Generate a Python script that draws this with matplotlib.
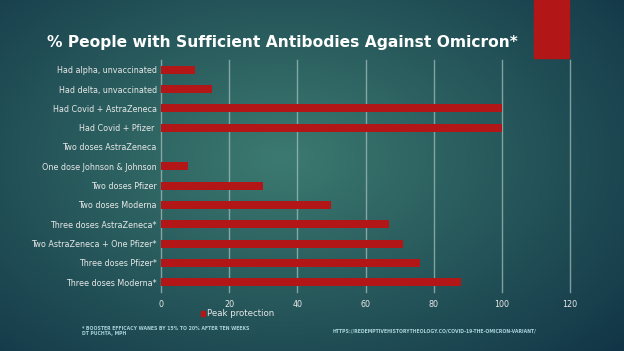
import numpy as np
import matplotlib
matplotlib.use("Agg")
import matplotlib.pyplot as plt
from matplotlib.patches import Rectangle, Patch

categories = ["Had alpha, unvaccinated", "Had delta, unvaccinated", "Had Covid + AstraZeneca",
              "Had Covid + Pfizer ", "Two doses AstraZeneca", "One dose Johnson & Johnson",
              "Two doses Pfizer", "Two doses Moderna", "Three doses AstraZeneca*",
              "Two AstraZeneca + One Pfizer*", "Three doses Pfizer*", "Three doses Moderna*"]
values = [10, 15, 100, 100, 0, 8, 30, 50, 67, 71, 76, 88]
xticks = [0, 20, 40, 60, 80, 100, 120]
title = "% People with Sufficient Antibodies Against Omicron*"
series_name = "Peak protection"
footnote = "* BOOSTER EFFICACY WANES BY 15% TO 20% AFTER TEN WEEKS\nDT PUCHTA, MPH"
source = "HTTPS://REDEMPTIVEHISTORYTHEOLOGY.CO/COVID-19-THE-OMICRON-VARIANT/"

W, H = 624, 351
fig = plt.figure(figsize=(W/100, H/100), dpi=100)

# background gradient
bg = fig.add_axes([0, 0, 1, 1])
yy, xx = np.mgrid[0:H, 0:W]
cx, cy = 0.45 * W, 0.45 * H
d = np.sqrt(((xx - cx) / (0.75 * W))**2 + ((yy - cy) / (0.85 * H))**2)
d = np.clip(d, 0, 1)
c_in = np.array([0x3c, 0x7a, 0x70]) / 255
c_out = np.array([0x10, 0x33, 0x45]) / 255
img = c_in[None, None, :] * (1 - d[..., None]) + c_out[None, None, :] * d[..., None]
bg.imshow(img, extent=[0, W, H, 0], aspect='auto')
bg.set_xlim(0, W); bg.set_ylim(H, 0)
bg.axis('off')
bg.add_patch(Rectangle((534, 0), 35, 58, color='#b21616'))

fig.text(47/W, 1 - 42/H, title, color='white', fontsize=11.2, fontweight='bold',
         family='DejaVu Sans', va='center', ha='left')

ax = fig.add_axes([161/W, 1 - 292/H, (570 - 161)/W, (292 - 60)/H])
ax.patch.set_alpha(0)
y = np.arange(len(categories))
ax.barh(y, values, height=0.4, color='#b21616', label=series_name, zorder=3)
ax.set_ylim(len(categories) - 0.5, -0.5)
ax.set_xlim(0, 120)
ax.set_xticks(xticks)
ax.set_yticks(y)
ax.set_yticklabels(categories)
ax.tick_params(colors='#e8e8e8', labelsize=5.8, length=0)
ax.tick_params(axis='x', pad=6)
ax.tick_params(axis='y', pad=3)
for s in ax.spines.values():
    s.set_visible(False)
for t in xticks:
    ax.axvline(t, color='#a8c4c0', linewidth=1, alpha=0.7, zorder=1, clip_on=False)

leg = fig.legend(handles=[Patch(color='#b21616', label=series_name)],
                 loc='center', bbox_to_anchor=(238/W, 1 - 314/H), frameon=False,
                 fontsize=6.2, labelcolor='#e8e8e8', handlelength=0.4, handleheight=0.4,
                 handletextpad=0.3)

fig.text(82/W, 1 - 331/H, footnote, color='#a8d0d8', fontsize=3.3, fontweight='bold',
         va='center', ha='left', linespacing=1.1)
fig.text(333/W, 1 - 331/H, source, color='#a8d0d8', fontsize=3.3, fontweight='bold',
         va='center', ha='left')

fig.savefig("out.png", dpi=100)
